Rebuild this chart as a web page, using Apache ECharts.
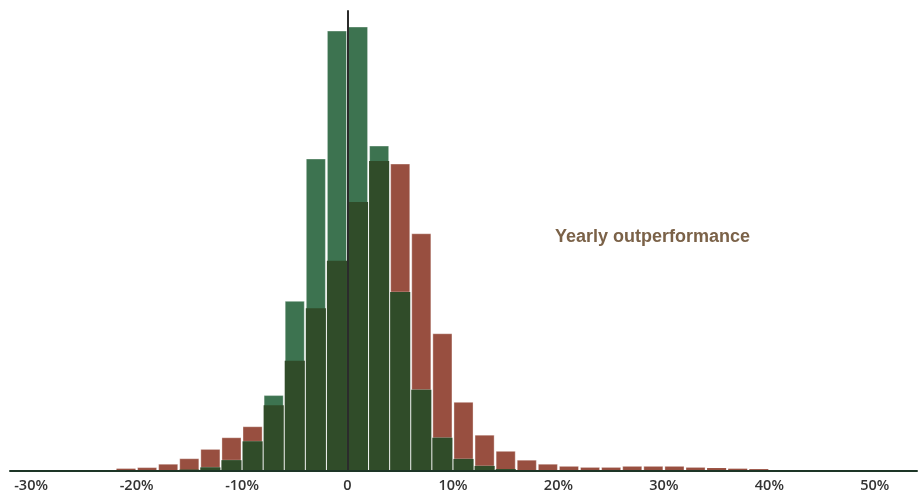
<!DOCTYPE html>
<html>
<head>
<meta charset="utf-8">
<script src="https://cdn.jsdelivr.net/npm/echarts@6/dist/echarts.min.js"></script>
<style>
  html, body { margin: 0; padding: 0; background: #fff; }
  #chart { width: 922px; height: 493px; }
</style>
</head>
<body>
<div id="chart"></div>
<script>
// bin starts (2% wide bins), in %
const binStarts = [-22, -20, -18, -16, -14, -12, -10, -8, -6, -4, -2, 0, 2, 4, 6, 8,
  10, 12, 14, 16, 18, 20, 22, 24, 26, 28, 30, 32, 34, 36, 38];

// share of observations (%) per bin
const redValues = [0.11, 0.16, 0.32, 0.58, 1.02, 1.57, 2.09, 3.10, 5.21, 7.68, 9.93, 12.70, 14.64, 14.49, 11.20, 6.48,
  3.24, 1.69, 0.93, 0.51, 0.32, 0.22, 0.17, 0.17, 0.22, 0.22, 0.22, 0.17, 0.14, 0.11, 0.09];
const greenValues = [0, 0, 0.02, 0.06, 0.17, 0.51, 1.40, 3.56, 8.01, 14.73, 20.77, 20.96, 15.34, 8.45, 3.84, 1.57,
  0.57, 0.24, 0.09, 0.03, 0, 0, 0, 0, 0, 0, 0, 0, 0, 0, 0];

const tickValues = [-30, -20, -10, 0, 10, 20, 30, 40, 50];
const binWidth = 2;

const chart = echarts.init(document.getElementById('chart'));

const RED = '#984f40';
const GREEN = '#3d7350';
const DARK = '#304c29';

// barras superpuestas: rojo, verde y la zona comun en verde oscuro
function renderBin(params, api) {
  const start = api.value(0);
  const red = api.value(1);
  const green = api.value(2);
  const base = api.coord([start, 0]);
  const right = api.coord([start + binWidth, 0]);
  const x = base[0] + 1;
  const w = right[0] - base[0] - 2;
  const yRed = api.coord([start, red])[1];
  const yGreen = api.coord([start, green])[1];
  const yMin = api.coord([start, Math.min(red, green)])[1];
  const children = [];
  if (red > 0) {
    children.push({
      type: 'rect',
      shape: { x: x, y: yRed, width: w, height: base[1] - yRed },
      style: { fill: RED, stroke: base[1] - yRed > 3 ? 'rgba(255,255,255,0.35)' : null, lineWidth: 1 }
    });
  }
  if (green > 0) {
    children.push({
      type: 'rect',
      shape: { x: x, y: yGreen, width: w, height: base[1] - yGreen },
      style: { fill: GREEN, stroke: base[1] - yGreen > 3 ? 'rgba(255,255,255,0.35)' : null, lineWidth: 1 }
    });
  }
  if (red > 0 && green > 0) {
    children.push({
      type: 'rect',
      shape: { x: x - 0.5, y: yMin, width: w + 1, height: base[1] - yMin },
      style: { fill: DARK }
    });
  }
  return { type: 'group', children: children };
}

const binData = binStarts.map((s, i) => [s, redValues[i], greenValues[i]]);

const option = {
  animation: false,
  grid: { left: 10, right: 5, top: 5, bottom: 22 },
  xAxis: {
    type: 'value',
    min: -32,
    max: 54,
    z: 10,
    axisLine: { show: true, onZero: false, lineStyle: { color: '#1d3526', width: 2 } },
    axisTick: { show: false },
    splitLine: { show: false },
    axisLabel: {
      customValues: tickValues,
      margin: 7,
      color: '#333',
      fontFamily: 'Open Sans',
      fontWeight: 600,
      fontSize: 14.5,
      formatter: v => (v === 0 ? '0' : v + '%')
    }
  },
  yAxis: {
    type: 'value',
    min: 0,
    max: 22,
    show: false,
    splitLine: { show: false }
  },
  graphic: [
    {
      type: 'text',
      left: 555,
      top: 228,
      style: {
        text: 'Yearly outperformance',
        fill: '#7b6248',
        font: 'bold 18px "Liberation Sans", Arial, sans-serif'
      }
    }
  ],
  series: [
    {
      type: 'custom',
      renderItem: renderBin,
      encode: { x: 0, y: [1, 2] },
      data: binData,
      z: 2,
      markLine: {
        silent: true,
        symbol: 'none',
        label: { show: false },
        lineStyle: { color: '#2b2b2b', width: 2, type: 'solid' },
        data: [[{ coord: [0, 0] }, { coord: [0, 21.75] }]],
        z: 5
      }
    }
  ]
};

chart.setOption(option);
</script>
</body>
</html>
